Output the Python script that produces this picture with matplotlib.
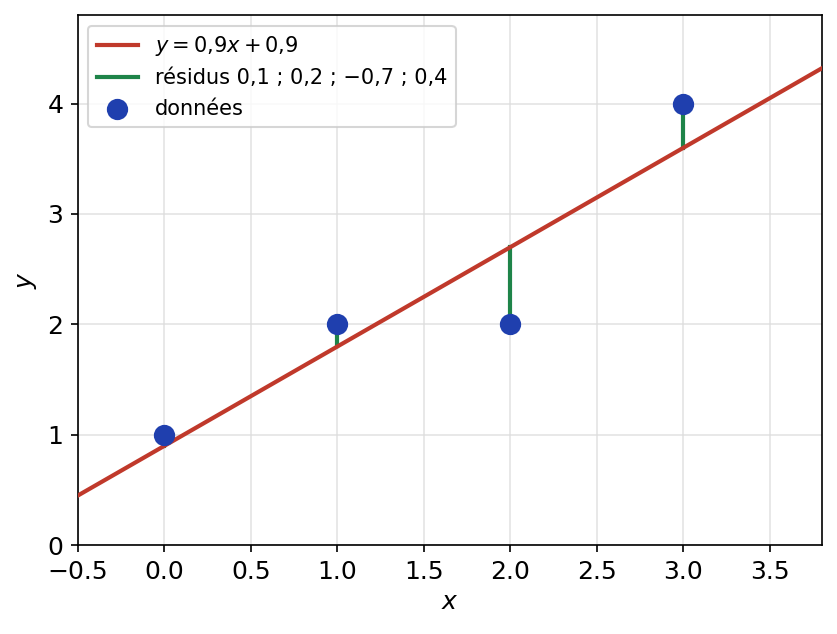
import matplotlib
matplotlib.use("Agg")
import matplotlib.pyplot as plt
import numpy as np

x_data = [0, 1, 2, 3]
y_data = [1, 2, 2, 4]
slope = 0.9
intercept = 0.9
x_line = [-0.5, 3.8]

fig, ax = plt.subplots(figsize=(5.58, 4.2267), dpi=150)
xl = np.array(x_line)
ax.plot(xl, slope * xl + intercept, color="#c0392b", lw=2, label=r"$y = 0{,}9x + 0{,}9$", zorder=3)
for i, (xi, yi) in enumerate(zip(x_data, y_data)):
    ax.plot([xi, xi], [yi, slope * xi + intercept], color="#1e8449", lw=2,
            label="résidus 0,1 ; 0,2 ; \u22120,7 ; 0,4" if i == 0 else None, zorder=2)
ax.scatter(x_data, y_data, s=85, color="#1f3fae", label="données", zorder=4)

ax.set_xlim(-0.5, 3.8)
ax.set_ylim(0, 4.8)
ax.set_xticks(np.arange(-0.5, 3.6, 0.5))
ax.set_yticks([0, 1, 2, 3, 4])
ax.tick_params(labelsize=12)
ax.set_xlabel("$x$", fontsize=12, labelpad=3)
ax.set_ylabel("$y$", fontsize=12)
ax.grid(True, color="#dddddd", lw=0.8, alpha=0.8)
ax.set_axisbelow(True)
ax.legend(loc="upper left", fontsize=10)
fig.subplots_adjust(left=0.093, right=0.982, top=0.976, bottom=0.14)
fig.savefig("out.png", dpi=150)
